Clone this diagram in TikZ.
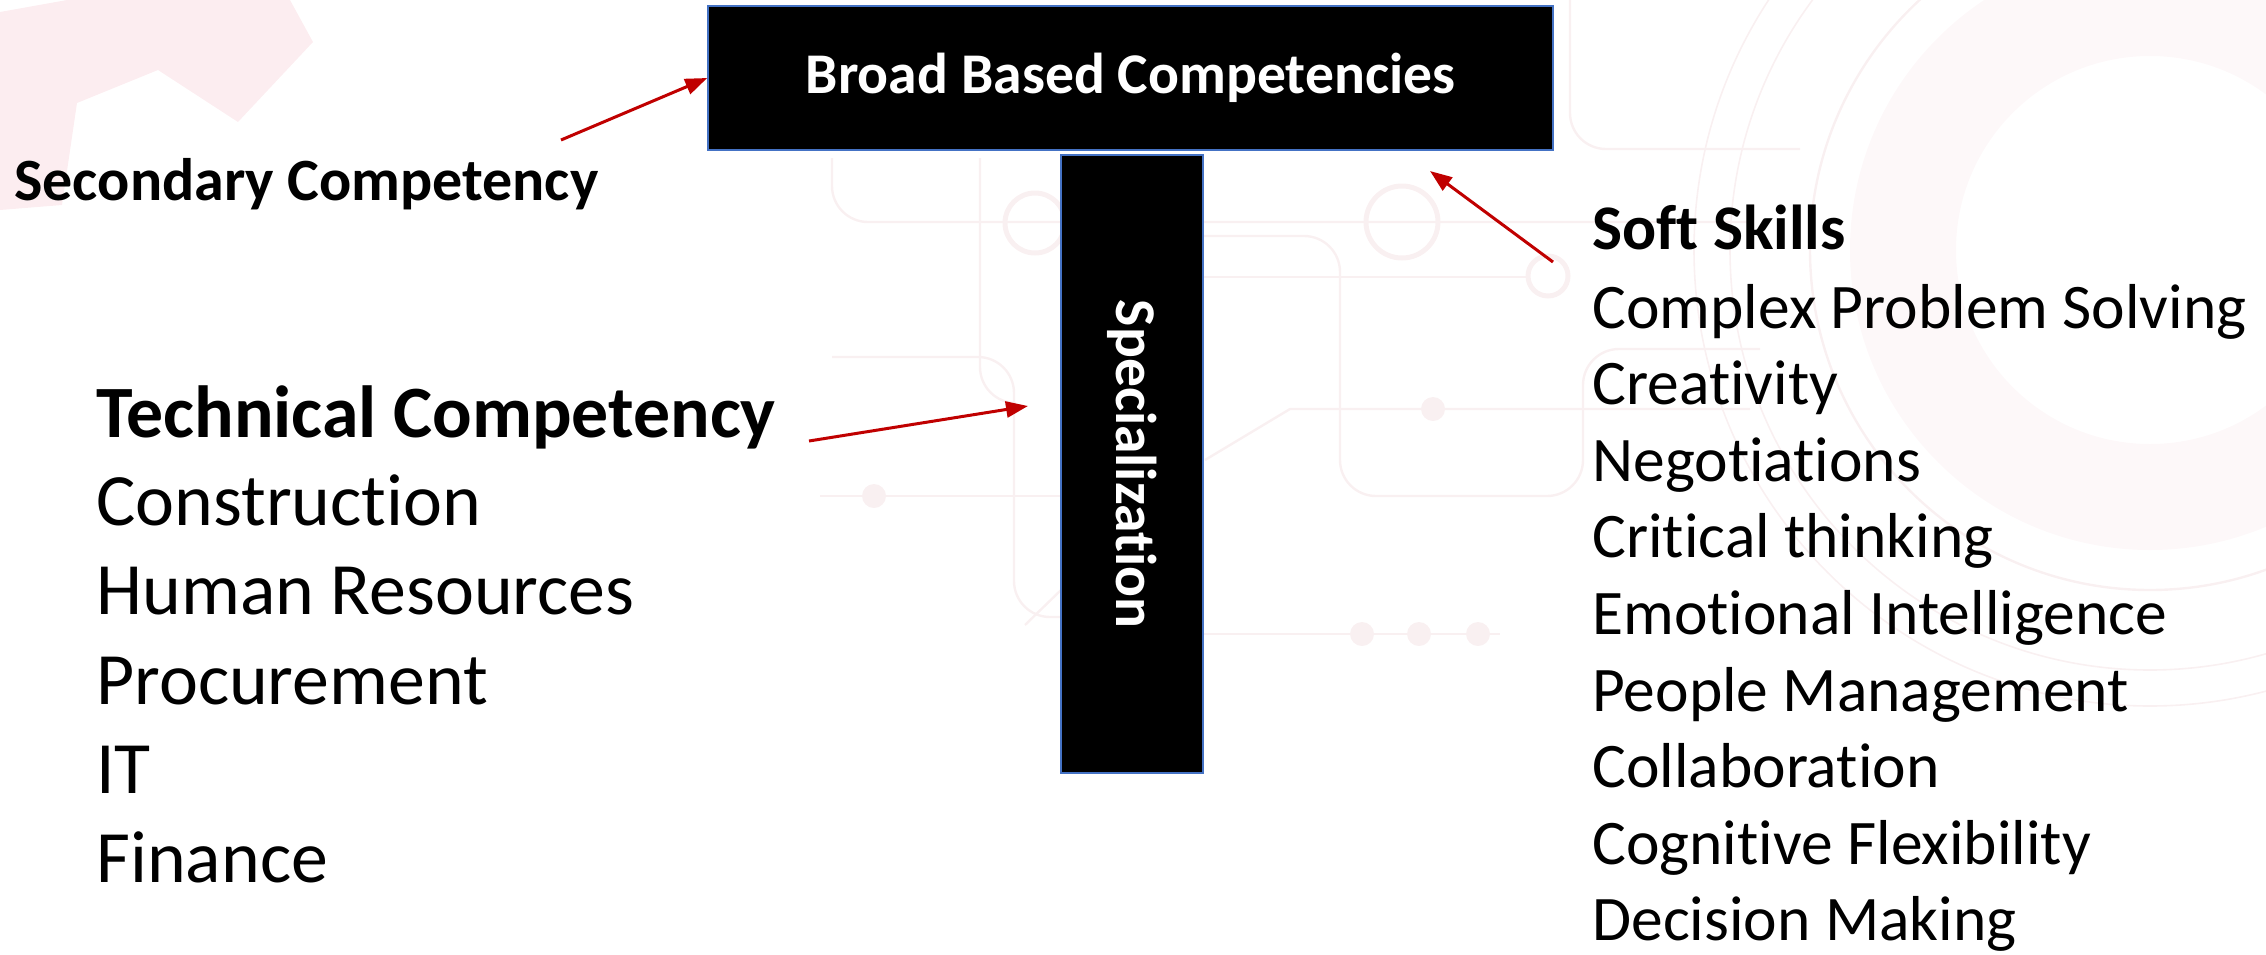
\documentclass[tikz,border=0pt]{standalone}
\usepackage{fontspec}
\setmainfont{Carlito}[Ligatures={NoCommon}]
\usetikzlibrary{calc, arrows.meta}

\definecolor{arrowred}{RGB}{192,0,0}
\definecolor{boxline}{RGB}{68,114,196}
\definecolor{gearpink}{RGB}{252,237,240}
\definecolor{wirepink}{RGB}{249,240,241}
\definecolor{ringpink}{RGB}{253,248,249}

\begin{document}
\begin{tikzpicture}[x=0.5pt, y=-0.5pt,
    blackbox/.style={fill=black, draw=boxline, line width=0.75pt, text=white,
        inner sep=0pt, font=\fontsize{28.8}{34}\selectfont\bfseries},
    pointer/.style={draw=arrowred, line width=1.5pt,
        -{Triangle[length=11pt, width=8pt]}},
    item/.style={anchor=base west, inner sep=0pt,
        font=\fontsize{31.75}{38}\selectfont},
    bigitem/.style={anchor=base west, inner sep=0pt,
        font=\fontsize{36.9}{44}\selectfont},
    wire/.style={draw=wirepink, line width=1.2pt, rounded corners=18pt}]

    \useasboundingbox (0, 0) rectangle (2266, 954);

    % faint background: gear and circuit board
    \begin{scope}
        \clip (0, 0) rectangle (2266, 954);
        \fill[gearpink] (0, 12) -- (67, 0) -- (290, 0) -- (313, 42)
            -- (238, 122) -- (158, 70) -- (77, 103) -- (62, 205) -- (0, 210) -- cycle;

        \fill[ringpink, even odd rule] (2150, 250) circle [radius=150pt]
            (2150, 250) circle [radius=97pt];
        \draw[wirepink, line width=1.2pt] (2150, 250) circle [radius=170pt];
        \draw[wirepink, line width=0.8pt] (2150, 250) circle [radius=210pt];
        \draw[wirepink, line width=0.8pt] (2150, 250) circle [radius=228pt];

        \draw[wire] (832, 158) -- (832, 222) -- (1750, 222);
        \draw[wire] (980, 158) -- (980, 403) -- (1014, 403);
        \draw[wire] (832, 357) -| (1014, 617) -- (1061, 617);
        \draw[wire] (1203, 236) -| (1340, 496) -| (1583, 349) -- (1760, 349);
        \draw[wire] (1203, 277) -- (1528, 277);
        \draw[wire, rounded corners=0pt] (1205, 460) -- (1290, 409) -- (1750, 409);
        \draw[wire, rounded corners=0pt] (1025, 625) -- (1061, 590);
        \draw[wire] (820, 496) -- (1061, 496);
        \draw[wire] (1203, 634) -- (1500, 634);
        \draw[wire] (1570, 0) -- (1570, 149) -- (1800, 149);

        \draw[wirepink, line width=2.5pt] (1035, 223) circle [radius=15pt];
        \draw[wirepink, line width=2.5pt] (1402, 222) circle [radius=18pt];
        \draw[wirepink, line width=2.5pt] (1548, 276) circle [radius=10pt];
        \fill[wirepink] (874, 496) circle [radius=6pt];
        \fill[wirepink] (1433, 409) circle [radius=6pt];
        \fill[wirepink] (1362, 634) circle [radius=6pt];
        \fill[wirepink] (1419, 634) circle [radius=6pt];
        \fill[wirepink] (1478, 634) circle [radius=6pt];
    \end{scope}

    % the T
    \node[blackbox, minimum width=422.5pt, minimum height=72pt] (broad)
        at (1130.5, 78) {Broad Based Competencies};
    \node[blackbox, rotate=-90, minimum width=309pt, minimum height=71pt] (spec)
        at (1132, 464) {Specialization};

    % labels
    \node[anchor=base west, inner sep=0pt, font=\fontsize{30}{36}\selectfont\bfseries]
        (secondary) at (14, 200) {Secondary Competency};

    \node[bigitem, font=\fontsize{36.9}{44}\selectfont\bfseries] (technical)
        at (96, 437) {Technical Competency};
    \node[bigitem] (construction) at (96, 525) {Construction};
    \node[bigitem] (hr) at (96, 614) {Human Resources};
    \node[bigitem] (procurement) at (96, 704) {Procurement};
    \node[bigitem] (it) at (96, 793) {IT};
    \node[bigitem] (finance) at (96, 882) {Finance};

    \node[item, font=\fontsize{31.75}{38}\selectfont\bfseries] (soft)
        at (1592, 249) {Soft Skills};
    \node[item] (problem) at (1592, 328) {Complex Problem Solving};
    \node[item] (creativity) at (1592, 404.6) {Creativity};
    \node[item] (negotiations) at (1592, 481.2) {Negotiations};
    \node[item] (critical) at (1592, 557.8) {Critical thinking};
    \node[item] (emotional) at (1592, 634.4) {Emotional Intelligence};
    \node[item] (people) at (1592, 711) {People Management};
    \node[item] (collab) at (1592, 787.6) {Collaboration};
    \node[item] (cognitive) at (1592, 864.2) {Cognitive Flexibility};
    \node[item] (decision) at (1592, 940.8) {Decision Making};

    % pointers
    \coordinate (sectail) at (561, 140);
    \coordinate (techtail) at (809, 441);
    \coordinate (techtip) at (1028, 406);
    \coordinate (softtail) at (1553, 262);
    \coordinate (softtip) at (1430, 171);

    \draw[pointer] (sectail) -- (broad.west);
    \draw[pointer] (techtail) -- (techtip);
    \draw[pointer] (softtail) -- (softtip);
\end{tikzpicture}
\end{document}
